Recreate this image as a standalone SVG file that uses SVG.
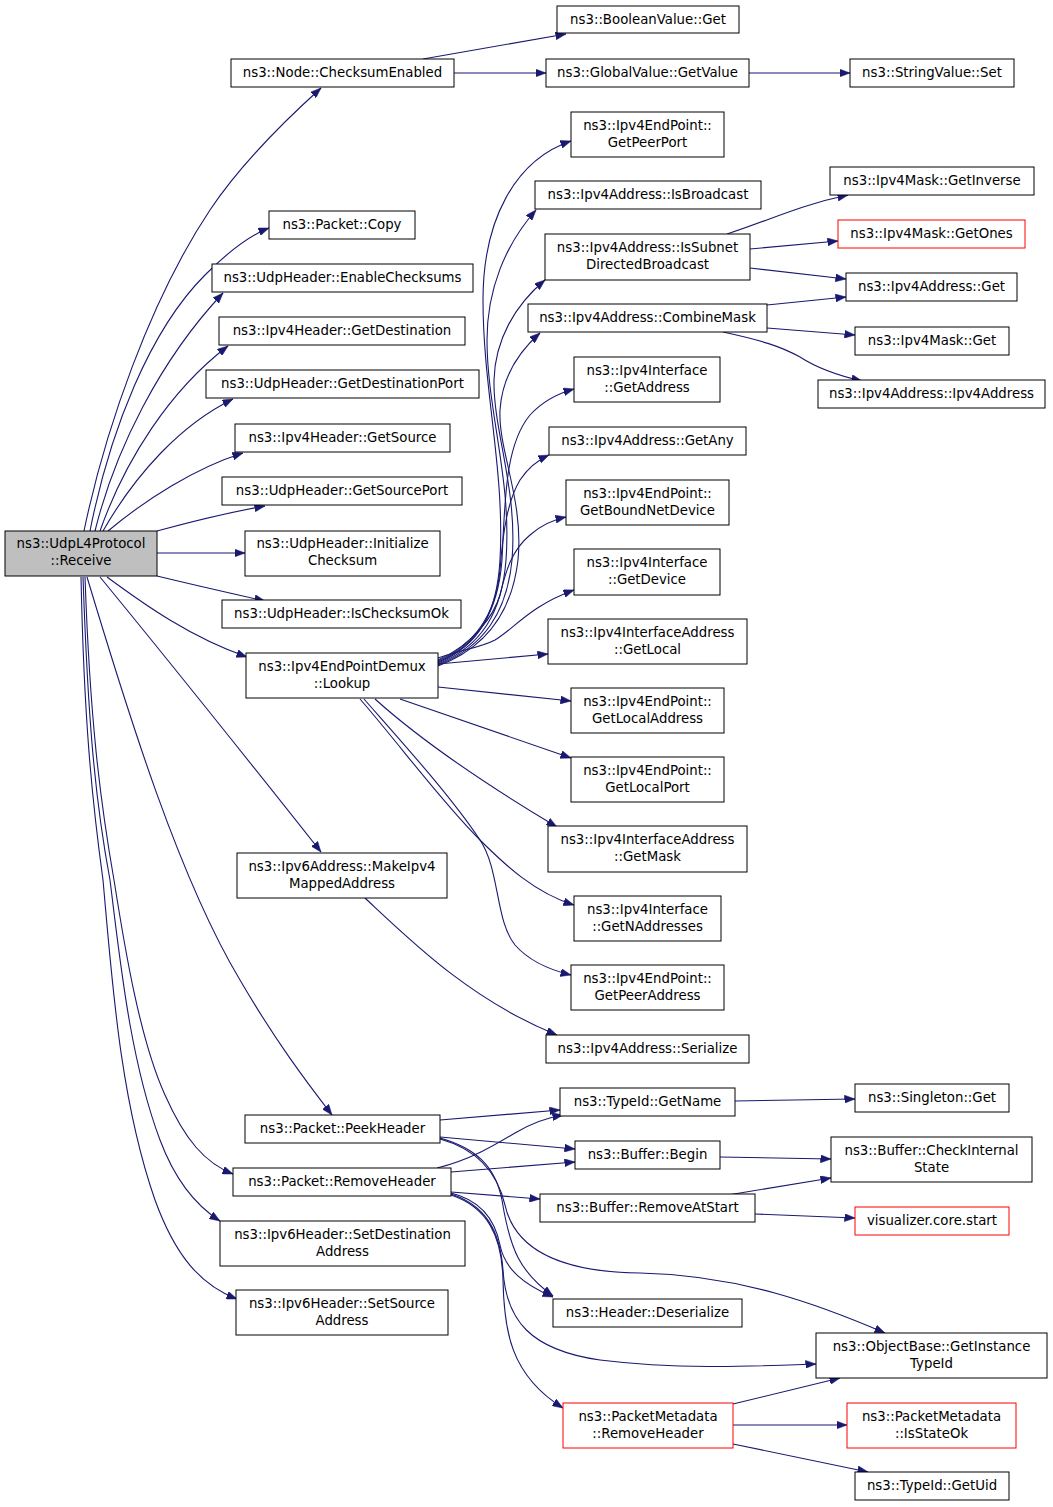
<svg xmlns="http://www.w3.org/2000/svg" width="1053" height="1507" viewBox="0 0 1053 1507">
<defs>
<style>
.n rect{fill:#fff;stroke:#000;stroke-width:1}
.n.red rect{stroke:#ff0000}
.n.root rect{fill:#bfbfbf}
.n text{font-family:"DejaVu Sans",sans-serif;font-size:13.3px;fill:#000;text-anchor:middle}
#edges path{fill:none;stroke:#191970;stroke-width:1.1;marker-end:url(#ah)}
</style>
<marker id="ah" markerUnits="userSpaceOnUse" markerWidth="11" markerHeight="8" refX="10.5" refY="4" orient="auto">
<path d="M0,0 L10.5,4 L0,8 z" fill="#191970" stroke="#191970" stroke-width="0.5"/>
</marker>
</defs>
<rect width="1053" height="1507" fill="#fff"/>
<g id="edges">
<path d="M84,531 C105,430 150,300 210,210 C240,165 280,125 321,88"/>
<path d="M90,531 C110,430 150,330 205,275 C225,255 248,236 269,228"/>
<path d="M95,531 C115,450 160,360 223,293"/>
<path d="M100,531 C125,460 170,390 228,346"/>
<path d="M103,531 C135,475 180,425 233,399"/>
<path d="M108,531 C145,500 195,468 243,453"/>
<path d="M157,531 C190,522 225,513 265,506"/>
<path d="M157,553 L245,553"/>
<path d="M157,576 C190,584 225,592 265,601"/>
<path d="M107,577 C145,605 190,637 247,657"/>
<path d="M100,577 C160,650 260,775 321,852"/>
<path d="M87,577 C130,720 180,880 240,980 C275,1040 305,1080 332,1115"/>
<path d="M85,577 C90,720 100,800 114,880 C125,950 140,1040 165,1095 C185,1140 205,1163 233,1174"/>
<path d="M83,577 C88,720 95,800 110,880 C120,960 130,1060 160,1140 C175,1180 195,1205 220,1221"/>
<path d="M81,577 C84,720 92,800 103,880 C112,980 120,1100 155,1200 C175,1255 200,1285 237,1299"/>
<path d="M423,59 L566,34"/>
<path d="M454,73 L546,73"/>
<path d="M749,73 L850,73"/>
<path d="M438,663 C480,645 497,612 500,560 C505,470 483,390 483,300 C483,220 515,160 571,141"/>
<path d="M438,664 C482,646 502,612 506,560 C512,480 487,410 487,340 C487,290 505,245 536,210"/>
<path d="M438,665 C484,647 507,612 512,560 C518,490 493,430 494,380 C495,340 515,305 545,280"/>
<path d="M438,666 C486,648 512,612 518,560 C524,500 498,450 500,410 C502,380 515,355 540,333"/>
<path d="M438,662 C478,645 498,612 502,560 C505,500 505,445 530,415 C542,402 556,394 574,389"/>
<path d="M438,661 C476,644 496,612 500,570 C503,530 508,500 520,480 C528,468 538,460 549,455"/>
<path d="M438,660 C474,644 494,615 500,595 C506,570 512,550 530,535 C540,526 552,520 566,517"/>
<path d="M438,658 C460,650 480,648 495,640 C515,628 530,606 574,590"/>
<path d="M438,664 L548,654"/>
<path d="M438,687 L571,701"/>
<path d="M400,699 L571,758"/>
<path d="M375,699 C415,735 470,775 557,827"/>
<path d="M360,699 C400,745 440,800 480,840 C505,865 535,893 574,905"/>
<path d="M364,699 C400,740 450,795 480,840 C500,870 495,920 515,945 C530,962 550,970 571,975"/>
<path d="M365,898 C410,940 470,1000 557,1035"/>
<path d="M727,234 C770,220 800,205 848,195"/>
<path d="M750,249 L838,241"/>
<path d="M750,268 L846,279"/>
<path d="M767,305 L846,297"/>
<path d="M767,328 L855,335"/>
<path d="M723,332 C760,340 780,346 800,357 C820,370 840,376 862,381"/>
<path d="M440,1120 L560,1110"/>
<path d="M440,1137 L575,1149"/>
<path d="M440,1138 C475,1148 495,1165 502,1200 C510,1250 520,1272 553,1296"/>
<path d="M440,1139 C480,1150 498,1175 505,1205 C515,1250 560,1272 640,1273 C740,1275 820,1305 885,1333"/>
<path d="M437,1168 C470,1160 495,1145 515,1133 C530,1124 545,1118 563,1115"/>
<path d="M451,1172 L575,1162"/>
<path d="M451,1192 L540,1199"/>
<path d="M451,1193 C480,1200 495,1220 500,1245 C505,1270 525,1285 553,1297"/>
<path d="M451,1194 C485,1205 500,1230 503,1270 C506,1320 530,1350 600,1360 C680,1370 760,1366 816,1364"/>
<path d="M451,1195 C487,1207 502,1235 503,1280 C504,1330 510,1375 563,1408"/>
<path d="M735,1101 L855,1099"/>
<path d="M720,1157 L831,1159"/>
<path d="M728,1195 L831,1178"/>
<path d="M755,1214 L855,1218"/>
<path d="M733,1404 L840,1378"/>
<path d="M733,1425 L847,1425"/>
<path d="M733,1444 L868,1472"/>
</g>
<g id="receive" class="n root"><rect x="5" y="531" width="152" height="45"/><text x="81" y="548">ns3::UdpL4Protocol</text><text x="81" y="565">::Receive</text></g>
<g id="checksumEnabled" class="n"><rect x="231" y="59" width="223" height="28"/><text x="342.5" y="77">ns3::Node::ChecksumEnabled</text></g>
<g id="booleanGet" class="n"><rect x="557" y="6" width="182" height="27"/><text x="648" y="23.5">ns3::BooleanValue::Get</text></g>
<g id="globalGetValue" class="n"><rect x="546" y="59" width="203" height="28"/><text x="647.5" y="77">ns3::GlobalValue::GetValue</text></g>
<g id="stringSet" class="n"><rect x="850" y="59" width="164" height="28"/><text x="932" y="77">ns3::StringValue::Set</text></g>
<g id="getPeerPort" class="n"><rect x="571" y="112" width="153" height="45"/><text x="647.5" y="129.5">ns3::Ipv4EndPoint::</text><text x="647.5" y="146.5">GetPeerPort</text></g>
<g id="isBroadcast" class="n"><rect x="535" y="181" width="226" height="28"/><text x="648" y="199">ns3::Ipv4Address::IsBroadcast</text></g>
<g id="isSubnet" class="n"><rect x="545" y="234" width="205" height="46"/><text x="647.5" y="252">ns3::Ipv4Address::IsSubnet</text><text x="647.5" y="269">DirectedBroadcast</text></g>
<g id="combineMask" class="n"><rect x="528" y="304" width="239" height="28"/><text x="647.5" y="322">ns3::Ipv4Address::CombineMask</text></g>
<g id="ifGetAddress" class="n"><rect x="574" y="357" width="146" height="45"/><text x="647" y="374.5">ns3::Ipv4Interface</text><text x="647" y="391.5">::GetAddress</text></g>
<g id="getAny" class="n"><rect x="549" y="427" width="197" height="28"/><text x="647.5" y="445">ns3::Ipv4Address::GetAny</text></g>
<g id="getBoundNetDevice" class="n"><rect x="566" y="480" width="163" height="45"/><text x="647.5" y="497.5">ns3::Ipv4EndPoint::</text><text x="647.5" y="514.5">GetBoundNetDevice</text></g>
<g id="getDevice" class="n"><rect x="574" y="549" width="146" height="46"/><text x="647" y="567">ns3::Ipv4Interface</text><text x="647" y="584">::GetDevice</text></g>
<g id="getLocal" class="n"><rect x="548" y="619" width="199" height="45"/><text x="647.5" y="636.5">ns3::Ipv4InterfaceAddress</text><text x="647.5" y="653.5">::GetLocal</text></g>
<g id="getLocalAddress" class="n"><rect x="571" y="688" width="153" height="45"/><text x="647.5" y="705.5">ns3::Ipv4EndPoint::</text><text x="647.5" y="722.5">GetLocalAddress</text></g>
<g id="getLocalPort" class="n"><rect x="571" y="757" width="153" height="45"/><text x="647.5" y="774.5">ns3::Ipv4EndPoint::</text><text x="647.5" y="791.5">GetLocalPort</text></g>
<g id="getMask" class="n"><rect x="548" y="826" width="199" height="46"/><text x="647.5" y="844">ns3::Ipv4InterfaceAddress</text><text x="647.5" y="861">::GetMask</text></g>
<g id="getNAddresses" class="n"><rect x="574" y="896" width="147" height="45"/><text x="647.5" y="913.5">ns3::Ipv4Interface</text><text x="647.5" y="930.5">::GetNAddresses</text></g>
<g id="getPeerAddress" class="n"><rect x="571" y="965" width="153" height="45"/><text x="647.5" y="982.5">ns3::Ipv4EndPoint::</text><text x="647.5" y="999.5">GetPeerAddress</text></g>
<g id="serialize" class="n"><rect x="546" y="1035" width="203" height="28"/><text x="647.5" y="1053">ns3::Ipv4Address::Serialize</text></g>
<g id="getInverse" class="n"><rect x="830" y="167" width="204" height="28"/><text x="932" y="185">ns3::Ipv4Mask::GetInverse</text></g>
<g id="getOnes" class="n red"><rect x="838" y="220" width="187" height="28"/><text x="931.5" y="238">ns3::Ipv4Mask::GetOnes</text></g>
<g id="addrGet" class="n"><rect x="846" y="273" width="171" height="28"/><text x="931.5" y="291">ns3::Ipv4Address::Get</text></g>
<g id="maskGet" class="n"><rect x="855" y="327" width="154" height="28"/><text x="932" y="345">ns3::Ipv4Mask::Get</text></g>
<g id="ipv4Address" class="n"><rect x="818" y="380" width="227" height="28"/><text x="931.5" y="398">ns3::Ipv4Address::Ipv4Address</text></g>
<g id="packetCopy" class="n"><rect x="269" y="211" width="146" height="28"/><text x="342" y="229">ns3::Packet::Copy</text></g>
<g id="enableChecksums" class="n"><rect x="212" y="264" width="261" height="28"/><text x="342.5" y="282">ns3::UdpHeader::EnableChecksums</text></g>
<g id="getDestination" class="n"><rect x="219" y="317" width="246" height="28"/><text x="342" y="335">ns3::Ipv4Header::GetDestination</text></g>
<g id="getDestinationPort" class="n"><rect x="206" y="370" width="273" height="28"/><text x="342.5" y="388">ns3::UdpHeader::GetDestinationPort</text></g>
<g id="getSource" class="n"><rect x="235" y="424" width="215" height="28"/><text x="342.5" y="442">ns3::Ipv4Header::GetSource</text></g>
<g id="getSourcePort" class="n"><rect x="222" y="477" width="240" height="28"/><text x="342" y="495">ns3::UdpHeader::GetSourcePort</text></g>
<g id="initializeChecksum" class="n"><rect x="245" y="531" width="195" height="45"/><text x="342.5" y="548">ns3::UdpHeader::Initialize</text><text x="342.5" y="565">Checksum</text></g>
<g id="isChecksumOk" class="n"><rect x="222" y="600" width="239" height="28"/><text x="341.5" y="618">ns3::UdpHeader::IsChecksumOk</text></g>
<g id="lookup" class="n"><rect x="246" y="653" width="192" height="45"/><text x="342" y="670.5">ns3::Ipv4EndPointDemux</text><text x="342" y="687.5">::Lookup</text></g>
<g id="makeIpv4Mapped" class="n"><rect x="237" y="853" width="210" height="45"/><text x="342" y="870.5">ns3::Ipv6Address::MakeIpv4</text><text x="342" y="887.5">MappedAddress</text></g>
<g id="peekHeader" class="n"><rect x="245" y="1115" width="195" height="28"/><text x="342.5" y="1133">ns3::Packet::PeekHeader</text></g>
<g id="removeHeader" class="n"><rect x="233" y="1168" width="218" height="28"/><text x="342" y="1186">ns3::Packet::RemoveHeader</text></g>
<g id="setDestination" class="n"><rect x="220" y="1221" width="245" height="45"/><text x="342.5" y="1238.5">ns3::Ipv6Header::SetDestination</text><text x="342.5" y="1255.5">Address</text></g>
<g id="setSource" class="n"><rect x="236" y="1290" width="212" height="45"/><text x="342" y="1307.5">ns3::Ipv6Header::SetSource</text><text x="342" y="1324.5">Address</text></g>
<g id="getName" class="n"><rect x="560" y="1088" width="175" height="28"/><text x="647.5" y="1106">ns3::TypeId::GetName</text></g>
<g id="bufferBegin" class="n"><rect x="575" y="1141" width="145" height="28"/><text x="647.5" y="1159">ns3::Buffer::Begin</text></g>
<g id="removeAtStart" class="n"><rect x="540" y="1194" width="215" height="28"/><text x="647.5" y="1212">ns3::Buffer::RemoveAtStart</text></g>
<g id="deserialize" class="n"><rect x="553" y="1299" width="189" height="28"/><text x="647.5" y="1317">ns3::Header::Deserialize</text></g>
<g id="pmRemoveHeader" class="n red"><rect x="563" y="1403" width="170" height="45"/><text x="648" y="1420.5">ns3::PacketMetadata</text><text x="648" y="1437.5">::RemoveHeader</text></g>
<g id="singletonGet" class="n"><rect x="855" y="1084" width="154" height="28"/><text x="932" y="1102">ns3::Singleton::Get</text></g>
<g id="checkInternalState" class="n"><rect x="831" y="1137" width="201" height="45"/><text x="931.5" y="1154.5">ns3::Buffer::CheckInternal</text><text x="931.5" y="1171.5">State</text></g>
<g id="visualizerStart" class="n red"><rect x="855" y="1207" width="154" height="28"/><text x="932" y="1225">visualizer.core.start</text></g>
<g id="getInstanceTypeId" class="n"><rect x="816" y="1333" width="231" height="45"/><text x="931.5" y="1350.5">ns3::ObjectBase::GetInstance</text><text x="931.5" y="1367.5">TypeId</text></g>
<g id="isStateOk" class="n red"><rect x="847" y="1403" width="169" height="45"/><text x="931.5" y="1420.5">ns3::PacketMetadata</text><text x="931.5" y="1437.5">::IsStateOk</text></g>
<g id="getUid" class="n"><rect x="855" y="1472" width="154" height="28"/><text x="932" y="1490">ns3::TypeId::GetUid</text></g>
</svg>
